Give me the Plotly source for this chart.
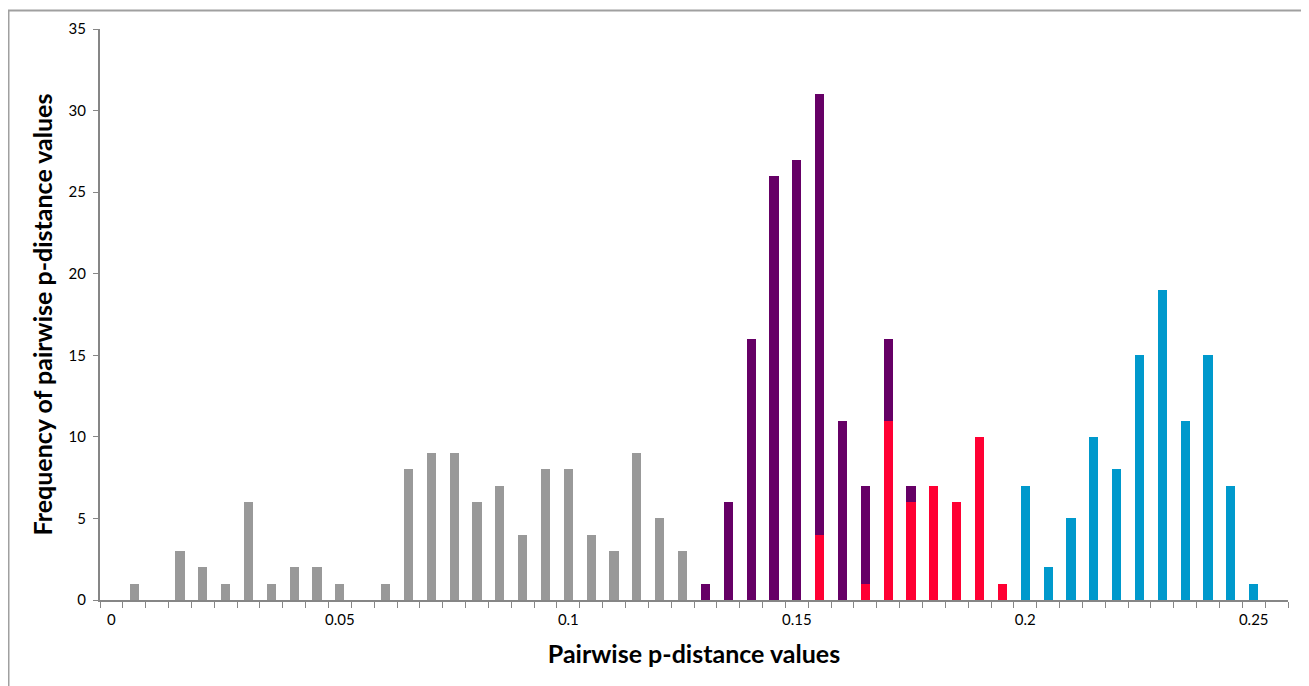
import plotly.graph_objects as go

# categories: p-distance bins 0 .. 0.255 step 0.005
categories = [round(i * 0.005, 3) for i in range(52)]

gray_vals = [0, 1, 0, 3, 2, 1, 6, 1, 2, 2, 1, 0, 1, 8, 9, 9, 6, 7, 4, 8, 8, 4, 3, 9, 5, 3] + [0] * 26
red_vals = [0] * 31 + [4, 0, 1, 11, 6, 7, 6, 10, 1] + [0] * 12
purple_vals = [0] * 26 + [1, 6, 16, 26, 27, 27, 11, 6, 5, 1] + [0] * 16
blue_vals = [0] * 40 + [7, 2, 5, 10, 8, 15, 19, 11, 15, 7, 1, 0]

x_tick_vals = [0, 0.05, 0.1, 0.15, 0.2, 0.25]
x_tick_text = ["0", "0.05", "0.1", "0.15", "0.2", "0.25"]
y_tick_vals = [0, 5, 10, 15, 20, 25, 30, 35]

step = 0.005
boundaries = [round(c - step / 2, 4) for c in categories] + [round(categories[-1] + step / 2, 4)]

fig = go.Figure()
series = [
    ("Gray", gray_vals, "#999999"),
    ("Red", red_vals, "#FF0033"),
    ("Purple", purple_vals, "#660066"),
    ("Blue", blue_vals, "#0099CC"),
]
for name, vals, col in series:
    fig.add_trace(go.Bar(
        x=categories, y=vals, name=name, width=step * 0.4,
        marker=dict(color=col, line=dict(width=0)),
        showlegend=False,
    ))

axis_gray = "#868686"
font_family = "Lato, 'Open Sans', sans-serif"

# page body has an 8px margin; figure is sized so it ends at the window edge
W, H = 1301, 678
L, R, T, B = 92, 21, 21, 86
pw, ph = W - L - R, H - T - B

fig.update_layout(
    barmode="stack",
    width=W, height=H, autosize=False,
    margin=dict(l=L, r=R, t=T, b=B),
    paper_bgcolor="white", plot_bgcolor="white",
    font=dict(family=font_family, color="black", size=15),
    xaxis=dict(
        range=[boundaries[0], boundaries[-1]],
        tickmode="array", tickvals=x_tick_vals, ticktext=x_tick_text,
        ticks="", showgrid=False, zeroline=False,
        showline=True, linecolor=axis_gray, linewidth=2,
        tickfont=dict(size=15, color="black"),
        ticklabelstandoff=5,
        minor=dict(tickmode="array", tickvals=boundaries, ticks="outside",
                   ticklen=6, tickcolor=axis_gray, tickwidth=1, showgrid=False),
        title=dict(text="<b>Pairwise p-distance values</b>",
                   font=dict(size=25, color="black"), standoff=18),
    ),
    yaxis=dict(
        range=[0, 35], tickmode="array", tickvals=y_tick_vals,
        ticks="outside", ticklen=5, tickcolor=axis_gray,
        showgrid=False, zeroline=False,
        showline=True, linecolor=axis_gray, linewidth=2,
        tickfont=dict(size=15, color="black"),
        ticklabelstandoff=4,
        title=dict(text="<b>Frequency of pairwise p-distance values</b>",
                   font=dict(size=25, color="black"), standoff=9),
    ),
    shapes=[dict(
        type="rect", xref="paper", yref="paper",
        x0=(0.5 - L) / pw, x1=(W + 20 - L) / pw,
        y0=-(B + 20) / ph, y1=(H - 2.5 - B) / ph,
        line=dict(color="#A0A0A0", width=2), fillcolor="rgba(0,0,0,0)",
        layer="below",
    )],
)

fig.write_html("out.html")
